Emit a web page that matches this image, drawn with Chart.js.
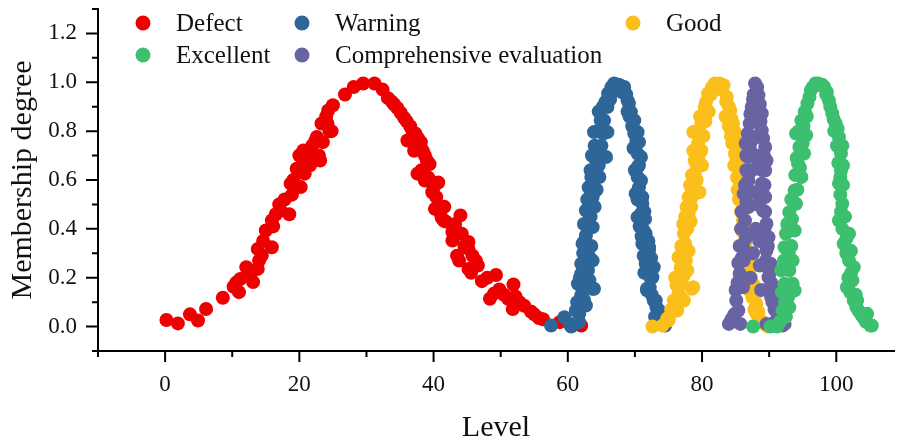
<!DOCTYPE html>
<html>
<head>
<meta charset="utf-8">
<script src="https://cdn.jsdelivr.net/npm/chart.js@4.4.1/dist/chart.umd.min.js"></script>
<style>
  html, body { margin: 0; padding: 0; background: #ffffff; }
  #wrap { width: 901px; height: 443px; }
</style>
</head>
<body>
<div id="wrap"><canvas id="c" width="901" height="443"></canvas></div>
<script>
// ---------- data ----------
const seriesNames = ['Defect', 'Warning', 'Good', 'Excellent', 'Comprehensive evaluation'];
const seriesColors = ['#EC0000', '#2E6699', '#FBBF1B', '#3CBF6E', '#6863A2'];

const defectPoints = [
  [0.2,0.027],[1.9,0.013],[3.7,0.05],[4.9,0.025],[6.1,0.072],[8.6,0.118],[10.2,0.163],[10.6,0.18],[11.0,0.141],
  [11.2,0.195],[12.1,0.243],[12.7,0.21],[13.1,0.182],[13.8,0.236],[14.0,0.27],[13.8,0.318],[14.4,0.291],[14.6,0.35],[15.0,0.393],
  [15.9,0.325],[16.1,0.41],[15.9,0.434],[16.5,0.46],[17.0,0.5],[17.2,0.475],[17.8,0.52],[18.5,0.46],[18.7,0.585],[18.9,0.54],
  [19.1,0.60],[19.6,0.646],[20.0,0.70],[20.2,0.571],[20.6,0.721],[20.8,0.626],[21.0,0.68],[21.3,0.72],[21.6,0.66],[21.9,0.74],[22.1,0.694],
  [22.4,0.762],[22.6,0.776],[22.9,0.70],[23.1,0.68],[23.3,0.831],[23.5,0.755],[23.8,0.84],[24.0,0.86],[24.2,0.83],[24.3,0.885],
  [24.5,0.80],[24.8,0.80],[25.0,0.906],[26.8,0.95],[28.1,0.981],[29.5,0.995],
  [31.2,0.995],[32.4,0.97],
  [33.2,0.935],[33.8,0.92],[34.1,0.91],[34.6,0.895],[35.1,0.875],[35.6,0.855],[36.0,0.84],[36.1,0.762],[36.5,0.82],[36.9,0.796],[37.1,0.72],
  [37.3,0.79],[37.7,0.77],[37.6,0.626],[38.1,0.755],[38.2,0.64],[38.4,0.72],[38.7,0.70],[38.7,0.598],[39.0,0.68],[39.2,0.61],[39.4,0.665],[39.8,0.55],
  [40.0,0.57],[40.2,0.482],[40.4,0.53],[40.7,0.59],[40.9,0.47],[41.2,0.445],[41.5,0.434],[41.6,0.49],[41.8,0.43],[42.8,0.387],[42.8,0.352],
  [43.2,0.42],[43.5,0.29],[43.8,0.27],[44.0,0.455],[44.2,0.38],[44.6,0.33],[45.2,0.346],[45.2,0.318],[45.2,0.236],[45.6,0.22],[45.8,0.29],
  [46.3,0.27],[46.6,0.25],[47.2,0.186],[48.0,0.20],[48.4,0.114],[49.0,0.135],[49.3,0.211],[49.8,0.152],[50.5,0.13],[51.1,0.114],[51.9,0.172],
  [52.2,0.123],[51.8,0.072],[52.8,0.10],[53.5,0.085],[54.5,0.062],[55.0,0.05],[55.7,0.035],[56.3,0.03],
  [58.8,0.018],[60.5,0.01],[62.0,0.004]
];

const warningPoints = [
  [57.5,0.004],[59.5,0.038],[60.3,0.01],[60.5,0.0],[61.2,0.066],[61.4,0.10],[61.5,0.175],[61.7,0.018],[61.7,0.052],
  [61.8,0.20],[62.0,0.127],[62.0,0.216],[62.0,0.257],[62.2,0.148],[62.2,0.339],[62.3,0.30],[62.4,0.11],[62.4,0.42],[62.5,0.352],
  [62.7,0.086],[62.7,0.27],[62.7,0.373],[62.7,0.475],[62.9,0.52],[63.0,0.23],[63.0,0.41],[63.1,0.57],[63.2,0.19],[63.2,0.284],
  [63.4,0.45],[63.4,0.64],[63.5,0.33],[63.5,0.612],[63.6,0.70],[63.7,0.155],[63.7,0.27],
  [63.7,0.407],[63.7,0.53],[63.7,0.578],[63.9,0.155],[63.9,0.796],[64.0,0.49],[64.0,0.74],[64.2,0.653],[64.2,0.68],[64.3,0.56],
  [64.4,0.721],[64.4,0.80],[64.6,0.66],[64.6,0.88],[64.7,0.612],[64.9,0.694],[64.9,0.844],[65.0,0.74],[65.2,0.899],[65.3,0.79],
  [65.4,0.844],[65.6,0.92],[65.7,0.694],[65.9,0.796],[65.9,0.899],[66.0,0.954],[66.3,0.93],[66.5,0.98],[66.9,0.995],[67.2,0.97],
  [67.6,0.99],[67.9,0.985],[68.0,0.96],[68.4,0.981],[68.7,0.95],[68.9,0.926],[68.9,0.88],[69.1,0.913],[69.2,0.86],[69.4,0.878],
  [69.6,0.82],[69.8,0.73],[69.9,0.844],[69.9,0.79],[70.0,0.64],[70.2,0.76],[70.4,0.796],[70.4,0.708],[70.6,0.755],[70.6,0.66],
  [70.9,0.694],[70.4,0.653],[70.4,0.612],[70.9,0.598],[70.6,0.57],[70.4,0.52],[70.1,0.544],[71.1,0.53],[71.1,0.503],[71.4,0.47],
  [70.4,0.448],[70.9,0.462],[70.7,0.41],[71.5,0.44],[71.0,0.37],[71.3,0.393],[71.6,0.38],[72.0,0.35],[71.1,0.339],
  [72.1,0.311],[72.1,0.325],[71.3,0.29],[72.4,0.28],[71.6,0.257],[72.8,0.243],[71.4,0.22],[72.3,0.20],[72.6,0.202],
  [72.2,0.16],[71.8,0.155],[71.8,0.148],[72.5,0.13],[73.1,0.107],[72.8,0.107],[73.2,0.08],[73.6,0.066],[73.6,0.052],
  [73.0,0.04],[73.8,0.03],[74.3,0.032],[74.5,0.004]
];

const goodPoints = [
  [72.6,0.0],[74.1,0.004],[74.8,0.032],[75.0,0.025],[75.1,0.038],[75.4,0.07],[75.8,0.107],[76.0,0.10],[76.3,0.066],[76.5,0.134],
  [76.8,0.12],[76.2,0.17],[76.0,0.20],[77.3,0.21],[76.8,0.24],[76.5,0.284],[77.6,0.27],[77.0,0.175],[77.0,0.30],[76.9,0.33],
  [78.0,0.31],[77.3,0.107],[77.3,0.38],[77.8,0.40],[77.2,0.42],[78.3,0.43],[77.5,0.45],[77.5,0.339],[78.4,0.49],[78.0,0.53],
  [77.7,0.489],[77.8,0.23],[78.0,0.462],[78.2,0.578],[78.9,0.55],[78.5,0.155],[78.5,0.53],[78.7,0.161],[78.7,0.796],
  [78.5,0.62],[78.9,0.626],[78.9,0.68],[79.2,0.60],[79.2,0.66],[79.6,0.55],[78.7,0.72],[79.5,0.70],[79.4,0.749],[79.9,0.721],
  [80.0,0.66],[79.4,0.79],[80.2,0.78],[79.9,0.831],[79.7,0.86],[80.5,0.84],[80.4,0.899],[80.6,0.92],[81.0,0.88],[81.3,0.95],
  [80.9,0.954],[81.5,0.98],[81.9,0.995],[82.3,0.99],[82.6,0.995],[82.9,0.97],[83.2,0.988],[83.5,0.86],[83.6,0.92],[83.7,0.94],
  [84.0,0.90],[84.0,0.82],[84.2,0.885],[84.4,0.85],[84.3,0.78],[84.6,0.831],[84.8,0.80],[84.5,0.75],[84.9,0.708],[85.0,0.70],
  [85.1,0.762],[85.3,0.72],[84.8,0.66],[85.6,0.68],[85.4,0.653],[85.2,0.61],[85.8,0.63],[85.3,0.56],[85.6,0.598],[86.0,0.56],
  [85.5,0.52],[85.9,0.516],[85.8,0.47],[86.3,0.48],[86.1,0.434],[86.0,0.39],[86.6,0.40],[86.4,0.339],[86.3,0.30],[86.8,0.31],
  [86.9,0.257],[86.6,0.22],[87.2,0.24],[87.3,0.20],[87.6,0.175],[87.0,0.15],[87.5,0.12],[87.8,0.12],[87.8,0.07],
  [88.1,0.093],[88.1,0.052],[88.4,0.06],[88.6,0.025],[89.0,0.02],[89.3,0.01],[89.8,0.0]
];

const excellentPoints = [
  [87.6,0.0],[90.2,0.0],[91.2,0.0],[91.6,0.02],[92.5,0.04],[92.0,0.066],[92.4,0.10],[92.8,0.12],[93.0,0.079],[91.9,0.14],[93.2,0.14],
  [91.8,0.23],[92.3,0.175],[93.0,0.23],[93.5,0.175],[93.5,0.27],[93.8,0.148],[92.2,0.27],[92.9,0.30],[92.3,0.325],[93.3,0.33],
  [92.5,0.38],[93.8,0.393],[92.7,0.42],[93.4,0.44],[93.0,0.468],[94.0,0.503],[93.3,0.52],[93.8,0.557],[94.2,0.56],[94.8,0.612],
  [93.9,0.62],[94.6,0.65],[94.3,0.667],[94.1,0.69],[95.2,0.708],[94.5,0.735],[95.0,0.75],[94.0,0.79],[94.4,0.80],[95.5,0.783],
  [95.1,0.82],[94.8,0.844],[95.6,0.86],[95.3,0.88],[95.7,0.913],[96.0,0.94],[96.2,0.967],[96.5,0.98],[96.9,0.995],[97.3,0.995],
  [97.6,0.99],[97.9,0.99],[98.2,0.981],[98.5,0.95],[98.6,0.96],[98.9,0.926],[99.1,0.90],[99.4,0.872],[99.6,0.85],[99.9,0.831],
  [100.2,0.81],[99.7,0.80],[100.4,0.776],[100.1,0.74],[100.9,0.74],[100.7,0.708],[100.3,0.67],[101.0,0.66],[100.7,0.639],
  [100.6,0.61],[100.4,0.585],[101.0,0.58],[100.6,0.54],[100.9,0.503],[100.7,0.47],[101.3,0.45],[100.4,0.434],[100.9,0.40],
  [101.9,0.38],[101.5,0.36],[101.1,0.339],[102.2,0.31],[101.5,0.30],[101.9,0.27],[102.6,0.243],[102.2,0.22],[101.8,0.20],
  [102.4,0.189],[101.6,0.161],[102.1,0.14],[102.9,0.13],[102.6,0.107],[103.1,0.107],[103.0,0.08],[103.3,0.066],
  [103.7,0.05],[104.6,0.052],[104.0,0.038],[104.4,0.02],[105.1,0.004],[105.3,0.004]
];

const comprehensivePoints = [
  [84.0,0.011],[84.4,0.03],[84.8,0.05],[85.0,0.15],[85.1,0.107],[85.3,0.18],[85.4,0.066],[85.4,0.26],[85.6,0.216],[85.7,0.011],
  [85.9,0.28],[85.6,0.33],[86.1,0.161],[86.1,0.325],[86.2,0.27],[86.5,0.36],[85.9,0.47],[86.6,0.51],[86.4,0.58],
  [86.2,0.544],[86.4,0.434],[85.8,0.40],[86.6,0.64],[86.6,0.70],[86.5,0.75],[87.1,0.73],[86.8,0.79],[86.9,0.38],[86.9,0.489],
  [86.9,0.598],[86.9,0.694],[87.1,0.831],[87.2,0.87],[87.6,0.84],[87.2,0.20],[87.4,0.639],[87.4,0.762],[87.4,0.899],[87.6,0.30],
  [87.6,0.93],[87.7,0.95],[87.8,0.55],[87.9,0.995],[88.2,0.98],[88.0,0.70],[88.0,0.40],[88.2,0.78],[88.3,0.50],[88.4,0.947],
  [88.4,0.66],[88.5,0.35],[88.6,0.91],[88.6,0.25],[88.7,0.84],[88.8,0.15],[88.9,0.872],[88.9,0.803],[88.9,0.585],[89.1,0.77],
  [89.2,0.70],[89.0,0.64],[89.3,0.58],[89.0,0.55],[89.1,0.475],[89.4,0.47],[89.3,0.40],[89.4,0.735],[89.4,0.639],
  [89.4,0.53],[89.6,0.68],[89.6,0.421],[89.8,0.33],[89.6,0.311],[89.5,0.27],[89.6,0.011],[89.9,0.366],[90.1,0.22],[89.9,0.202],
  [90.2,0.257],[90.3,0.18],[90.3,0.12],[90.5,0.10],[90.6,0.148],[90.8,0.07],[91.0,0.093],[90.9,0.02],[91.3,0.052],[91.6,0.03],
  [92.0,0.004],[92.3,0.011]
];

const xMajorTicks = [0, 20, 40, 60, 80, 100];
const xMinorTicks = [-10, 10, 30, 50, 70, 90];
const yMajorTicks = [0.0, 0.2, 0.4, 0.6, 0.8, 1.0, 1.2];
const yMinorTicks = [-0.1, 0.1, 0.3, 0.5, 0.7, 0.9, 1.1, 1.3];
const legendLayout = [ // [series index, column, row]
  [0, 0, 0], [1, 1, 0], [2, 2, 0], [3, 0, 1], [4, 1, 1]
];

// ---------- chart ----------
const FONT = "'Liberation Serif', 'Times New Roman', serif";
const allPoints = [defectPoints, warningPoints, goodPoints, excellentPoints, comprehensivePoints];
const drawOrder = [5, 4, 3, 1, 2];

const datasets = allPoints.map((pts, i) => ({
  label: seriesNames[i],
  data: pts.map(p => ({ x: p[0], y: p[1] })),
  backgroundColor: seriesColors[i],
  borderColor: seriesColors[i],
  borderWidth: 0,
  pointRadius: 7,
  pointHoverRadius: 7,
  order: drawOrder[i]
}));

const axisTicksPlugin = {
  id: 'axisTicks',
  afterDraw(chart) {
    const { ctx, chartArea, scales } = chart;
    const x = scales.x, y = scales.y;
    ctx.save();
    ctx.strokeStyle = '#000';
    ctx.lineWidth = 2;
    ctx.beginPath();
    xMajorTicks.forEach(v => { const p = x.getPixelForValue(v); ctx.moveTo(p, chartArea.bottom); ctx.lineTo(p, chartArea.bottom + 11); });
    xMinorTicks.forEach(v => { const p = x.getPixelForValue(v); ctx.moveTo(p, chartArea.bottom); ctx.lineTo(p, chartArea.bottom + 6); });
    yMajorTicks.forEach(v => { const p = y.getPixelForValue(v); ctx.moveTo(chartArea.left, p); ctx.lineTo(chartArea.left - 12, p); });
    yMinorTicks.forEach(v => { const p = y.getPixelForValue(v); ctx.moveTo(chartArea.left, p); ctx.lineTo(chartArea.left - 6, p); });
    ctx.stroke();
    ctx.restore();
  }
};

const legendPlugin = {
  id: 'gridLegend',
  afterDraw(chart) {
    const { ctx, chartArea } = chart;
    const colX = [45, 204, 535];
    const rowY = [14, 46];
    ctx.save();
    ctx.font = '25px ' + FONT;
    ctx.textBaseline = 'middle';
    ctx.textAlign = 'left';
    legendLayout.forEach(([si, c, r]) => {
      const cx = chartArea.left + colX[c];
      const cy = chartArea.top + rowY[r];
      ctx.fillStyle = seriesColors[si];
      ctx.beginPath();
      ctx.arc(cx, cy, 7.5, 0, Math.PI * 2);
      ctx.fill();
      ctx.fillStyle = '#111';
      ctx.fillText(seriesNames[si], cx + 33, cy + 1);
    });
    ctx.restore();
  }
};

new Chart(document.getElementById('c'), {
  type: 'scatter',
  data: { datasets },
  options: {
    responsive: false,
    animation: false,
    devicePixelRatio: 1,
    events: [],
    layout: { padding: { left: 0, right: 0, top: 9, bottom: 0 } },
    plugins: { legend: { display: false }, tooltip: { enabled: false } },
    scales: {
      x: {
        type: 'linear',
        min: -10,
        max: 108.6,
        afterBuildTicks: s => { s.ticks = xMajorTicks.map(v => ({ value: v })); },
        afterFit: s => { s.height = 92; s.paddingLeft = 0; s.paddingRight = 0; },
        grid: { display: false, drawTicks: true, tickLength: 11 },
        border: { display: true, color: '#000', width: 2 },
        ticks: { color: '#111', font: { family: FONT, size: 23 }, padding: 9, maxRotation: 0, callback: v => String(v) },
        title: { display: true, text: 'Level', color: '#111', font: { family: FONT, size: 30, lineHeight: 1 }, padding: { top: 0, bottom: 0 } }
      },
      y: {
        type: 'linear',
        min: -0.1,
        max: 1.3,
        afterBuildTicks: s => { s.ticks = yMajorTicks.map(v => ({ value: v })); },
        afterFit: s => { s.width = 98; s.paddingTop = 0; s.paddingBottom = 0; },
        grid: { display: false, drawTicks: true, tickLength: 12 },
        border: { display: true, color: '#000', width: 2 },
        ticks: { color: '#111', font: { family: FONT, size: 23 }, padding: 9, callback: v => Number(v).toFixed(1) },
        title: { display: true, text: 'Membership degree', color: '#111', font: { family: FONT, size: 30, lineHeight: 1 }, padding: { top: 8, bottom: 0 } }
      }
    }
  },
  plugins: [axisTicksPlugin, legendPlugin]
});
</script>
</body>
</html>
